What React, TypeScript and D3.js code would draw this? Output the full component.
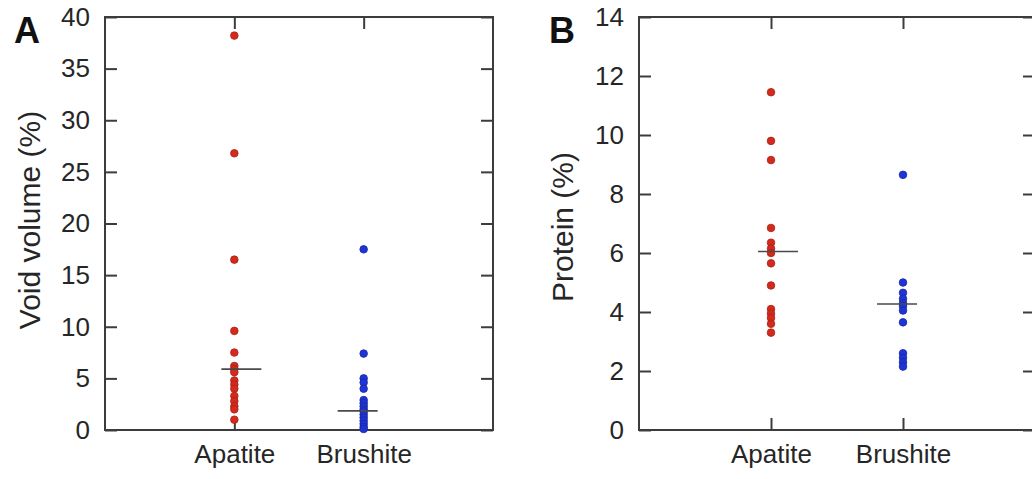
import React, { useEffect, useRef } from "react";
import * as d3 from "d3";

const categories = ["Apatite", "Brushite"];

const voidApatite = [38.2, 26.8, 16.5, 9.6, 7.5, 6.2, 5.9, 5.6, 4.8, 4.4, 4.0, 3.3, 2.8, 2.3, 2.0, 1.0];
const voidBrushite = [17.5, 7.4, 5.0, 4.6, 4.0, 2.9, 2.6, 2.3, 2.0, 1.8, 1.5, 1.2, 0.9, 0.6, 0.3, 0.1];
const voidMedians = [5.9, 1.85];
const voidTicks = [0, 5, 10, 15, 20, 25, 30, 35, 40];

const proteinApatite = [11.45, 9.8, 9.15, 6.85, 6.35, 6.15, 6.0, 5.65, 4.9, 4.1, 3.95, 3.8, 3.6, 3.3];
const proteinBrushite = [8.65, 5.0, 4.65, 4.45, 4.3, 4.2, 4.05, 3.65, 2.6, 2.45, 2.3, 2.15];
const proteinMedians = [6.05, 4.27];
const proteinTicks = [0, 2, 4, 6, 8, 10, 12, 14];

const WIDTH = 1032;
const HEIGHT = 479;
const TOP = 17;
const BOTTOM = 430;
const TICK = 12;
const FONT = "'Liberation Sans', Arial, sans-serif";
const TEXT = "#262626";
const FRAME = "#3c3c3c";
const COLORS = ["#d42a1c", "#1f34d8"];
const STROKES = ["#a82218", "#18289e"];
const MEDIAN_OFFSET = [7, -6];

const panels = [
  {
    letter: "A",
    letterX: 14,
    left: 105,
    width: 388,
    max: 40,
    ticks: voidTicks,
    title: "Void volume (%)",
    titleX: 40,
    titleY: 220,
    series: [voidApatite, voidBrushite],
    medians: voidMedians,
  },
  {
    letter: "B",
    letterX: 549,
    left: 639,
    width: 396,
    max: 14,
    ticks: proteinTicks,
    title: "Protein (%)",
    titleX: 573,
    titleY: 227,
    series: [proteinApatite, proteinBrushite],
    medians: proteinMedians,
  },
];

const App = () => {
  const svgRef = useRef<SVGSVGElement>(null);

  useEffect(() => {
    const svg = d3.select(svgRef.current);
    svg.selectAll("*").remove();

    panels.forEach((p) => {
      const g = svg.append("g");
      const xScale = d3.scaleLinear().domain([0, 3]).range([p.left, p.left + p.width]);
      const yScale = d3.scaleLinear().domain([0, p.max]).range([BOTTOM, TOP]);
      const catX = (i: number) => xScale(i + 1);

      // ticks pointing inward
      const leftAxis = d3
        .axisLeft(yScale)
        .tickValues(p.ticks)
        .tickFormat(d3.format("d"))
        .tickSizeInner(-TICK)
        .tickSizeOuter(0)
        .tickPadding(15);
      const rightAxis = d3
        .axisRight(yScale)
        .tickValues(p.ticks)
        .tickFormat(() => "")
        .tickSizeInner(-TICK)
        .tickSizeOuter(0);
      const topAxis = d3
        .axisTop(xScale)
        .tickValues([1, 2])
        .tickFormat(() => "")
        .tickSizeInner(-TICK)
        .tickSizeOuter(0);
      const bottomAxis = d3
        .axisBottom(xScale)
        .tickValues([1, 2])
        .tickFormat((d) => categories[(d as number) - 1])
        .tickSizeInner(-TICK)
        .tickSizeOuter(0)
        .tickPadding(15);

      const axes = [
        g.append("g").attr("transform", `translate(${p.left},0)`).call(leftAxis),
        g.append("g").attr("transform", `translate(${p.left + p.width},0)`).call(rightAxis),
        g.append("g").attr("transform", `translate(0,${TOP})`).call(topAxis),
        g.append("g").attr("transform", `translate(0,${BOTTOM})`).call(bottomAxis),
      ];
      axes.forEach((a) => {
        a.select(".domain").remove();
        a.selectAll("line").attr("stroke", FRAME).attr("stroke-width", 2);
        a.selectAll("text")
          .attr("fill", TEXT)
          .attr("font-family", FONT)
          .attr("font-size", 26);
      });

      g.append("rect")
        .attr("x", p.left)
        .attr("y", TOP)
        .attr("width", p.width)
        .attr("height", BOTTOM - TOP)
        .attr("fill", "none")
        .attr("stroke", FRAME)
        .attr("stroke-width", 2);

      // points
      p.series.forEach((vals, i) => {
        g.selectAll(null)
          .data(vals)
          .join("circle")
          .attr("cx", catX(i))
          .attr("cy", (d) => yScale(d))
          .attr("r", 3.8)
          .attr("fill", COLORS[i])
          .attr("stroke", STROKES[i])
          .attr("stroke-width", 0.8);
      });

      // median bars
      g.selectAll(null)
        .data(p.medians)
        .join("line")
        .attr("x1", (d, i) => catX(i) + MEDIAN_OFFSET[i] - 20)
        .attr("x2", (d, i) => catX(i) + MEDIAN_OFFSET[i] + 20)
        .attr("y1", (d) => yScale(d))
        .attr("y2", (d) => yScale(d))
        .attr("stroke", "#4a4a4a")
        .attr("stroke-width", 1.6);

      g.append("text")
        .attr("transform", `translate(${p.titleX},${p.titleY}) rotate(-90)`)
        .attr("text-anchor", "middle")
        .attr("font-family", FONT)
        .attr("font-size", 30)
        .attr("fill", TEXT)
        .text(p.title);

      g.append("text")
        .attr("x", p.letterX)
        .attr("y", 43)
        .attr("font-family", FONT)
        .attr("font-weight", "bold")
        .attr("font-size", 36)
        .attr("fill", "#111")
        .text(p.letter);
    });
  }, []);

  return (
    <svg
      ref={svgRef}
      width={WIDTH}
      height={HEIGHT}
      style={{ position: "absolute", left: 0, top: 0, background: "#fff" }}
    ></svg>
  );
};

export default App;
